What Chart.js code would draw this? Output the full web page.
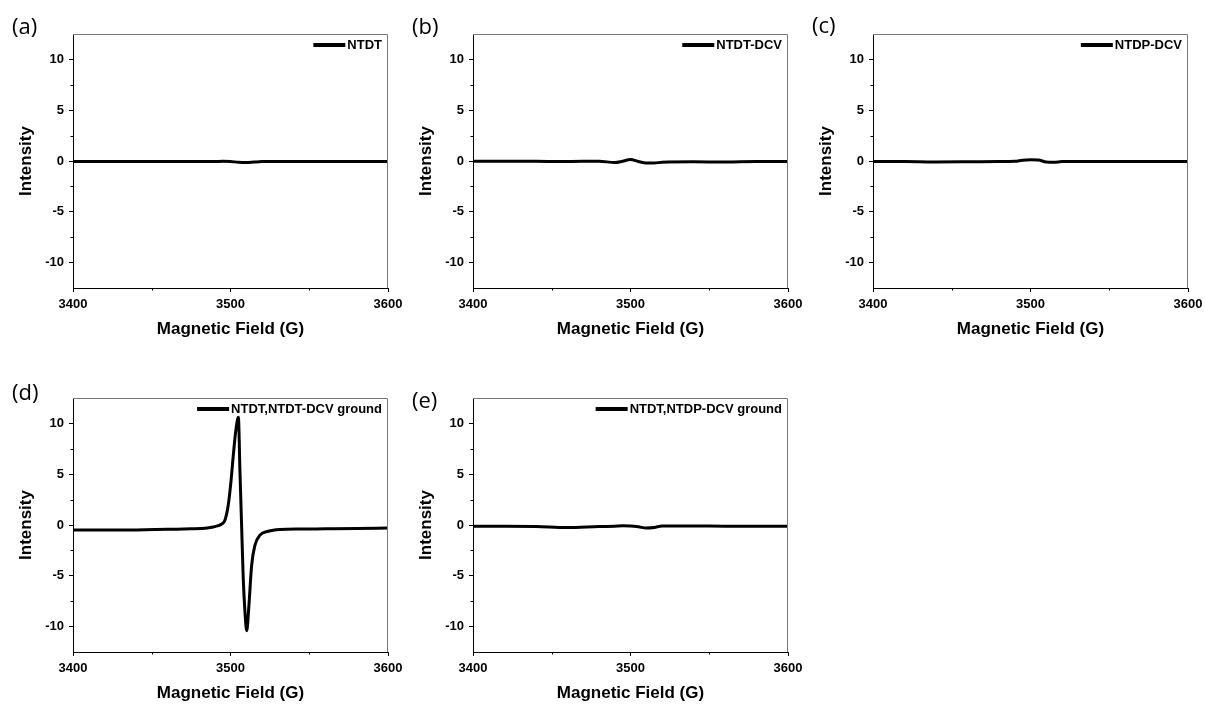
<!DOCTYPE html>
<html>
<head>
<meta charset="utf-8">
<script src="https://cdn.jsdelivr.net/npm/chart.js@4.4.1/dist/chart.umd.min.js"></script>
<style>
  html, body { margin: 0; padding: 0; background: #fff; overflow: hidden; }
  body { width: 1205px; height: 704px; position: relative; }
  .panel { position: absolute; width: 420px; height: 336px; }
</style>
</head>
<body>
<div class="panel" style="left:0;top:4px"><canvas id="pa" width="420" height="336"></canvas></div>
<div class="panel" style="left:400px;top:4px"><canvas id="pb" width="420" height="336"></canvas></div>
<div class="panel" style="left:800px;top:4px"><canvas id="pc" width="420" height="336"></canvas></div>
<div class="panel" style="left:0;top:368px"><canvas id="pd" width="420" height="336"></canvas></div>
<div class="panel" style="left:400px;top:368px"><canvas id="pe" width="420" height="336"></canvas></div>

<script>
// field axis (G) and tick positions
const xTicks = [3400, 3500, 3600];
const xMinor = [3450, 3550];
const yTicks = [-10, -5, 0, 5, 10];
const yMinor = [-7.5, -2.5, 2.5, 7.5];

// flat spectra share the same field points
const fieldFlat = [3400, 3420, 3440, 3460, 3480, 3490, 3495, 3500, 3505, 3510, 3515, 3520, 3540, 3560, 3580, 3600];
const ntdt      = [-0.05, -0.05, -0.06, -0.05, -0.05, -0.06, -0.03, -0.05, -0.12, -0.15, -0.1, -0.06, -0.05, -0.05, -0.05, -0.05];
const ntdtDcv   = [-0.02, -0.02, -0.03, -0.05, -0.02, -0.15, -0.02, 0.15, -0.05, -0.2, -0.2, -0.12, -0.08, -0.1, -0.06, -0.06];
const ntdpDcv   = [-0.05, -0.06, -0.1, -0.08, -0.05, -0.03, 0.08, 0.12, 0.1, -0.1, -0.12, -0.06, -0.05, -0.05, -0.05, -0.05];
const mixNtdp   = [-0.12, -0.12, -0.15, -0.25, -0.15, -0.12, -0.08, -0.1, -0.18, -0.3, -0.25, -0.1, -0.1, -0.12, -0.12, -0.12];

// ground NTDT + NTDT-DCV: derivative signal around 3508 G
const fieldMix = [3400, 3420, 3440, 3460, 3475, 3484, 3489, 3492.3, 3494.5, 3496.5, 3498.6, 3500.3, 3501.8, 3503.3, 3505,
                  3506, 3507.1, 3508.1, 3509.2, 3510.3, 3511.7, 3513.4, 3515.5, 3518.7, 3524, 3531.4, 3545, 3560, 3580, 3600];
const mixNtdt  = [-0.5, -0.5, -0.48, -0.42, -0.38, -0.33, -0.2, -0.07, 0.1, 0.5, 2.0, 4.3, 6.9, 9.2, 10.6,
                  5.3, -0.3, -5.3, -8.6, -10.4, -7.9, -4.0, -2.0, -1.0, -0.62, -0.45, -0.4, -0.38, -0.35, -0.3];

const FAMILY = "'Liberation Sans', Arial, sans-serif";

function makePanel(id, tag, tagY, legendText, xs, ys) {
  const deco = {
    id: 'deco',
    afterDraw(chart) {
      const { ctx, chartArea: a, scales: { x, y } } = chart;
      ctx.save();
      // grey top/right frame
      ctx.strokeStyle = '#7a7a7a';
      ctx.lineWidth = 1;
      ctx.beginPath();
      ctx.moveTo(a.left, a.top + 0.5);
      ctx.lineTo(a.right - 0.5, a.top + 0.5);
      ctx.lineTo(a.right - 0.5, a.bottom);
      ctx.stroke();
      // short minor ticks
      ctx.strokeStyle = '#000';
      ctx.beginPath();
      xMinor.forEach(v => {
        const px = Math.round(x.getPixelForValue(v)) + 0.5;
        ctx.moveTo(px, a.bottom); ctx.lineTo(px, a.bottom + 2.5);
      });
      yMinor.forEach(v => {
        const py = Math.round(y.getPixelForValue(v)) + 0.5;
        ctx.moveTo(a.left, py); ctx.lineTo(a.left - 2.5, py);
      });
      ctx.stroke();
      // legend entry
      ctx.font = `bold 13px ${FAMILY}`;
      ctx.fillStyle = '#000';
      ctx.textBaseline = 'middle';
      ctx.textAlign = 'left';
      const tw = ctx.measureText(legendText).width;
      const ly = a.top + 11;
      const tx = a.right - 6 - tw;
      ctx.fillText(legendText, tx, ly);
      ctx.lineWidth = 4;
      ctx.beginPath();
      ctx.moveTo(tx - 34, ly); ctx.lineTo(tx - 2, ly);
      ctx.stroke();
      // panel tag
      ctx.font = "22px 'Open Sans', sans-serif";
      ctx.fillText(tag, 12, tagY);
      ctx.restore();
    }
  };

  const tickFont = { family: FAMILY, size: 13, weight: 'bold' };
  const titleFont = { family: FAMILY, size: 17, weight: 'bold' };

  new Chart(document.getElementById(id), {
    type: 'line',
    data: {
      datasets: [{
        label: legendText,
        data: xs.map((v, i) => ({ x: v, y: ys[i] })),
        borderColor: '#000',
        borderWidth: 3,
        pointRadius: 0,
        cubicInterpolationMode: 'monotone',
        borderJoinStyle: 'round'
      }]
    },
    options: {
      responsive: false,
      animation: false,
      devicePixelRatio: 1,
      layout: { padding: { top: 30, right: 32, left: 0, bottom: 0 } },
      plugins: { legend: { display: false }, tooltip: { enabled: false } },
      scales: {
        x: {
          type: 'linear', min: 3400, max: 3600,
          afterBuildTicks: s => { s.ticks = xTicks.map(v => ({ value: v })); },
          afterFit: s => { s.height = 52; s.paddingLeft = 0; s.paddingRight = 0; },
          grid: { drawOnChartArea: false, drawTicks: true, tickLength: 4, tickColor: '#000' },
          border: { display: true, color: '#000', width: 1 },
          ticks: { font: tickFont, color: '#000', padding: 5, maxRotation: 0, autoSkip: false, callback: v => String(v) },
          title: { display: true, text: 'Magnetic Field (G)', font: titleFont, color: '#000', padding: { top: 0, bottom: 0 } }
        },
        y: {
          type: 'linear', min: -12.5, max: 12.5,
          afterBuildTicks: s => { s.ticks = yTicks.map(v => ({ value: v })); },
          afterFit: s => { s.width = 73; s.paddingTop = 0; s.paddingBottom = 0; },
          grid: { drawOnChartArea: false, drawTicks: true, tickLength: 4, tickColor: '#000' },
          border: { display: true, color: '#000', width: 1 },
          ticks: { font: tickFont, color: '#000', padding: 5, autoSkip: false, callback: v => String(v) },
          title: { display: true, text: 'Intensity', font: titleFont, color: '#000', padding: { top: 16, bottom: 0 } }
        }
      }
    },
    plugins: [deco]
  });
}

makePanel('pa', '(a)', 24, 'NTDT', fieldFlat, ntdt);
makePanel('pb', '(b)', 24, 'NTDT-DCV', fieldFlat, ntdtDcv);
makePanel('pc', '(c)', 23, 'NTDP-DCV', fieldFlat, ntdpDcv);
makePanel('pd', '(d)', 26, 'NTDT,NTDT-DCV ground', fieldMix, mixNtdt);
makePanel('pe', '(e)', 34, 'NTDT,NTDP-DCV ground', fieldFlat, mixNtdp);
</script>
</body>
</html>
